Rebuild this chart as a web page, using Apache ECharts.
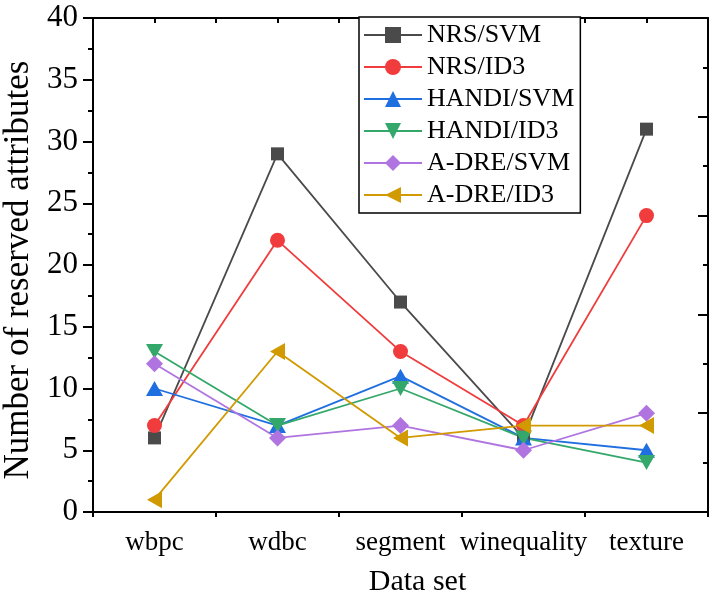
<!DOCTYPE html>
<html>
<head>
<meta charset="utf-8">
<script src="https://cdn.jsdelivr.net/npm/echarts@6/dist/echarts.min.js"></script>
<style>
html,body{margin:0;padding:0;background:#fff;}
#chart{width:711px;height:603px;}
</style>
</head>
<body>
<div id="chart"></div>
<script>
const categories = ['wbpc', 'wdbc', 'segment', 'winequality', 'texture'];
const seriesNames = ['NRS/SVM', 'NRS/ID3', 'HANDI/SVM', 'HANDI/ID3', 'A-DRE/SVM', 'A-DRE/ID3'];
const nrsSvm   = [6, 29, 17, 6, 31];
const nrsId3   = [7, 22, 13, 7, 24];
const handiSvm = [10, 7, 11, 6, 5];
const handiId3 = [13, 7, 10, 6, 4];
const adreSvm  = [12, 6, 7, 5, 8];
const adreId3  = [1, 13, 6, 7, 7];
const yTicks = [0, 5, 10, 15, 20, 25, 30, 35, 40];

const FONT = "'Liberation Serif', 'Times New Roman', serif";
const colors = ['#4a4a4a', '#f03c3c', '#1f6fe0', '#33a86a', '#b074e0', '#d19a00'];
const symbols = ['rect', 'circle', 'triangle', 'path://M0,0 L10,0 L5,9 Z', 'diamond', 'path://M9,0 L9,10 L0,5 Z'];
const sizes = [13, 15, [17, 15], [17, 15], [17, 17], [15, 17]];
const values = [nrsSvm, nrsId3, handiSvm, handiId3, adreSvm, adreId3];

const chart = echarts.init(document.getElementById('chart'), null, {renderer: 'canvas'});
const axisLine = {show: true, lineStyle: {color: '#000', width: 2}};
const tickStyle = {color: '#000', width: 2};

chart.setOption({
  backgroundColor: '#fff',
  animation: false,
  grid: {left: 93, right: 3, top: 18, bottom: 91, containLabel: false, outerBoundsMode: 'none'},
  legend: {
    orient: 'vertical',
    left: 359,
    top: 17,
    padding: [5, 6, 5, 4],
    itemGap: 6,
    itemWidth: 58,
    itemHeight: 20,
    borderColor: '#000',
    borderWidth: 1.5,
    backgroundColor: '#fff',
    textStyle: {fontFamily: FONT, fontSize: 26, color: '#000', lineHeight: 26},
    data: seriesNames
  },
  xAxis: [
    {
      type: 'category', data: categories, position: 'bottom', boundaryGap: true,
      axisLine: axisLine,
      axisTick: {alignWithLabel: true, length: 8, lineStyle: tickStyle},
      axisLabel: {fontFamily: FONT, fontSize: 27, color: '#000', margin: 17, interval: 0},
      splitLine: {show: false},
      name: 'Data set', nameLocation: 'middle', nameGap: 55,
      nameTextStyle: {fontFamily: FONT, fontSize: 30, color: '#000', padding: [0, 0, 0, 34]}
    },
    {
      type: 'category', data: categories, position: 'bottom', boundaryGap: true,
      axisLine: {show: false},
      axisTick: {show: true, length: 5, lineStyle: tickStyle, interval: 0},
      axisLabel: {show: false},
      splitLine: {show: false}
    },
    {
      type: 'value', position: 'top', min: 0, max: 10, interval: 1,
      axisLine: axisLine,
      axisTick: {show: true, inside: true, length: 5, lineStyle: tickStyle},
      axisLabel: {show: false},
      splitLine: {show: false}
    }
  ],
  yAxis: [
    {
      type: 'value', position: 'left', min: yTicks[0], max: yTicks[yTicks.length - 1], interval: 5,
      axisLine: axisLine,
      axisTick: {show: true, length: 10, lineStyle: tickStyle},
      minorTick: {show: true, splitNumber: 2, length: 5, lineStyle: tickStyle},
      axisLabel: {fontFamily: FONT, fontSize: 31, color: '#000', margin: 15},
      splitLine: {show: false},
      name: 'Number of reserved attributes', nameLocation: 'middle', nameGap: 56,
      nameTextStyle: {fontFamily: FONT, fontSize: 35, color: '#000', padding: [0, 10, 0, 0]}
    },
    {
      type: 'value', position: 'right', min: 0, max: 5, interval: 1,
      axisLine: axisLine,
      axisTick: {show: true, inside: true, length: 10, lineStyle: tickStyle},
      minorTick: {show: true, splitNumber: 2, length: 5, lineStyle: tickStyle},
      axisLabel: {show: false},
      splitLine: {show: false}
    }
  ],
  series: seriesNames.map((name, i) => ({
    name: name,
    type: 'line',
    xAxisIndex: 0,
    yAxisIndex: 0,
    data: values[i],
    symbol: symbols[i],
    symbolSize: sizes[i],
    showAllSymbol: true,
    lineStyle: {color: colors[i], width: 1.8},
    itemStyle: {color: colors[i]},
    emphasis: {disabled: true}
  }))
});
</script>
</body>
</html>
